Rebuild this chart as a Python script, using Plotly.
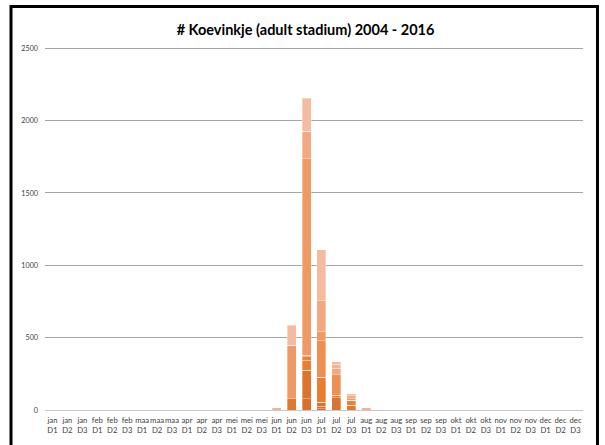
import plotly.graph_objects as go

months = ["jan", "feb", "maa", "apr", "mei", "jun", "jul", "aug", "sep", "okt", "nov", "dec"]
decades = ["D1", "D2", "D3"]
categories = [f"{m} {d}" for m in months for d in decades]
tick_labels = [f"{m}<br>{d}" for m in months for d in decades]

years = ["2004", "2005", "2006", "2007", "2008", "2009", "2010",
         "2011", "2012", "2013", "2014", "2015", "2016"]

# values per year, only non-zero decades (index -> count)
y2004 = {18: 10}
y2005 = {17: 79, 18: 16}
y2006 = {17: 196, 18: 29, 19: 83}
y2007 = {16: 79, 20: 33}
y2008 = {17: 69, 18: 170, 19: 19}
y2009 = {17: 24, 20: 34}
y2010 = {17: 11}
y2011 = {18: 253, 19: 143}
y2012 = {16: 370, 17: 1357, 18: 63, 20: 12}
y2013 = {}
y2014 = {17: 192, 18: 215, 19: 42, 20: 18}
y2015 = {15: 15, 19: 28, 21: 17}
y2016 = {16: 138, 17: 227, 18: 351, 19: 18, 20: 17}

series = [y2004, y2005, y2006, y2007, y2008, y2009, y2010,
          y2011, y2012, y2013, y2014, y2015, y2016]

colors = ["#D26C28", "#D6702A", "#DA742E", "#E07830", "#E97D30", "#EC8136",
          "#EE8744", "#EE9052", "#EF9A64", "#F0A170", "#F2A981", "#F4B393", "#F5BBA0"]

fig = go.Figure()
for name, vals, col in zip(years, series, colors):
    yv = [vals.get(i, 0) for i in range(len(categories))]
    fig.add_trace(go.Bar(
        x=categories, y=yv, name=name,
        marker=dict(color=col, line=dict(color="rgba(255,255,255,0.55)", width=0.6)),
    ))

T, B = 44, 35
H = 445 - T - B
y_top = H / (361.7 / 2500)

fig.update_layout(
    width=605, height=445,
    barmode="stack", bargap=0.4,
    showlegend=False,
    paper_bgcolor="white", plot_bgcolor="white",
    margin=dict(l=45, r=22, t=T, b=B, pad=0, autoexpand=False),
    font=dict(family="Lato, Open Sans, sans-serif", color="#404040"),
    title=dict(text="<b># Koevinkje (adult stadium) 2004 - 2016</b>",
               x=0.505, xanchor="center", y=0.932, yanchor="middle",
               font=dict(size=14.5, color="#000000", family="Lato, Open Sans, sans-serif")),
    xaxis=dict(
        type="category", tickmode="array", tickvals=categories, ticktext=tick_labels,
        tickfont=dict(size=7.7, color="#404040"), tickangle=0,
        showgrid=False, showline=True, linecolor="#C8C8C8", linewidth=1,
        ticks="", fixedrange=True, ticklabelstandoff=3, automargin=False,
    ),
    yaxis=dict(
        range=[0, y_top], tickvals=[0, 500, 1000, 1500, 2000, 2500],
        tickfont=dict(size=7.2, color="#404040"),
        showgrid=True, gridcolor="#A6A6A6", gridwidth=1,
        zeroline=False, showline=False, ticks="", ticklabelstandoff=6,
        fixedrange=True, automargin=False,
    ),
    shapes=[dict(
        type="rect", xref="paper", yref="paper",
        x0=(11 - 45) / 538, x1=(597.5 - 45) / 538,
        y0=(410 - 455) / H, y1=(410 - 6.5) / H,
        line=dict(color="black", width=3), fillcolor="rgba(0,0,0,0)", layer="above",
    )],
)

fig.write_html(
    "out.html",
    config={"displayModeBar": False},
    post_script="document.body.style.margin='0';document.body.style.overflow='hidden';",
)
